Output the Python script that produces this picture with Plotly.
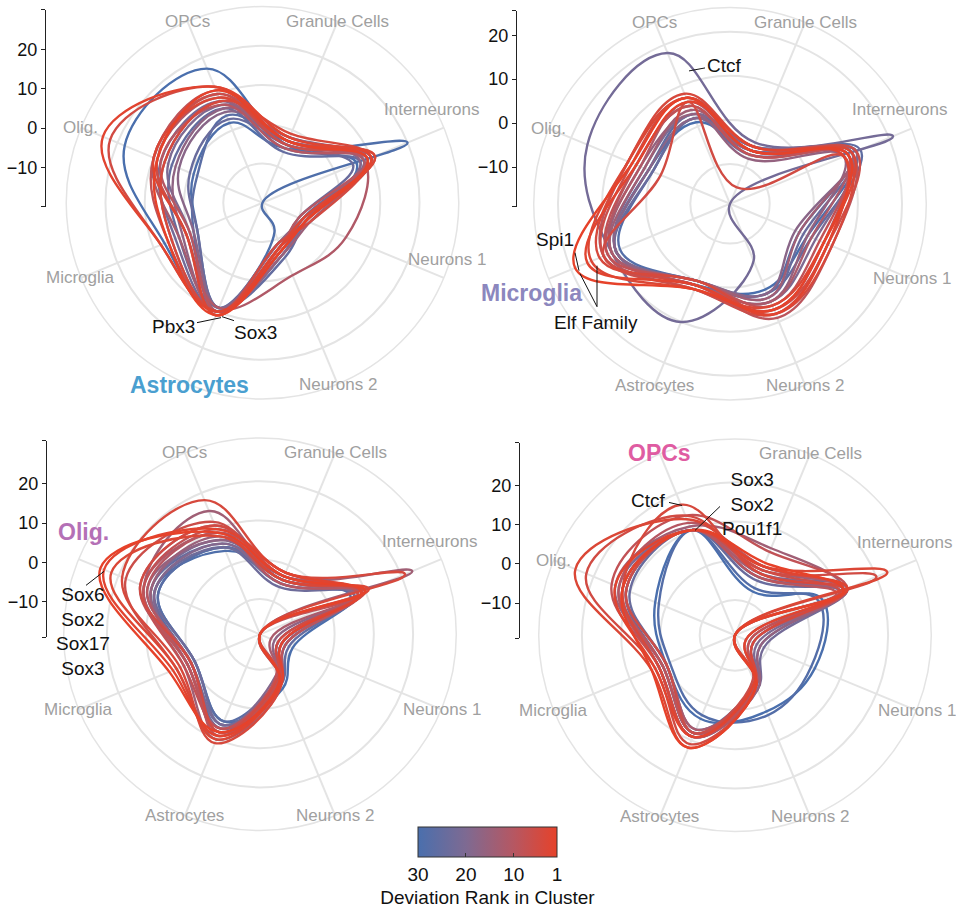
import math
import plotly.graph_objects as go
from plotly.colors import sample_colorscale

W, H = 956, 907
FONT = "Arial, Liberation Sans, sans-serif"

CATEGORIES = ["OPCs", "Granule Cells", "Interneurons", "Neurons 1",
              "Neurons 2", "Astrocytes", "Microglia", "Olig."]

# colour of a motif line by its deviation rank (30 = blue ... 1 = red)
RANK_COLORSCALE = [[0.0, "#4a6fad"], [0.345, "#7e6a92"],
                   [0.69, "#b65762"], [1.0, "#e6422a"]]
COLORBAR_TICKS = [30, 20, 10, 1]
SCALE_TICKS = [-10, 0, 10, 20]

# ---- Astrocytes cluster: deviation per cell type (order of CATEGORIES)
ASTRO_RANGE = [-20, 30]
ASTRO_RANKS = [30, 29, 27, 25, 24, 22, 20, 18, 17, 15, 13, 11, 10, 8, 6, 5, 4, 3, 2, 1]
ASTRO_VALUES = [
    [17, -4, 6, -7, -9, 10, 7, 18],
    [2, -5, 20, -20, -12, 9, -2, -1],
    [4, -3, 8, -9, -6, 9, -1, -2],
    [6, -6, 7, -8, -5, 9, 3, 5],
    [3, -4, 5, -10, -8, 9, -2, 0],
    [8, -5, 9, -9, -7, 10, 4, 8],
    [7, -3, 10, -8, -6, 10, 0, 6],
    [5, -2, 7, -9, -9, 9, -1, 3],
    [6, -2, 9, -9, -9, 10, 2, 4],
    [8, -4, 10, -7, -6, 10, 5, 7],
    [10, -3, 8, -8, -8, 10, 3, 10],
    [9, -4, 8, 3, 0, 9, 1, 9],
    [7, -5, 9, -10, -8, 10, 0, 8],
    [11, -2, 10, -8, -7, 10, 6, 10],
    [10, -4, 11, -9, -8, 11, 1, 9],
    [12, -3, 9, -7, -9, 10, 8, 22],
    [8, -1, 10, -8, -7, 10, 5, 7],
    [9, -3, 11, -9, -8, 11, 1, 10],
    [12, -2, 10, -8, -8, 10, 8, 24],
    [11, -3, 9, -8, -7, 11, 6, 9],
]

# ---- Microglia cluster
MICRO_RANGE = [-19, 25.5]
MICRO_RANKS = [30, 28, 26, 24, 22, 20, 18, 16, 14, 12, 11, 9, 8, 6, 5, 4, 3, 2, 1]
MICRO_VALUES = [
    [1, -6, 12, 0, 2, 1, 9, 1],
    [2, -5, 11, -2, 3, 0, 8, 0],
    [3, -6, 13, 1, 3, 1, 9, 1],
    [2, -7, 12, -1, 4, 0, 9, 0],
    [18, -4, 21, -19, -5, 10, 10, 16],
    [3, -5, 11, 2, 5, 1, 9, 2],
    [2, -6, 12, -3, 3, 0, 9, 1],
    [3, -8, 9, 0, 5, 1, 10, 3],
    [4, -6, 11, -2, 4, 0, 10, 2],
    [5, -7, 10, 1, 5, 1, 10, 4],
    [6, -6, 9, 4, 7, 2, 11, 3],
    [7, -5, 11, 6, 9, 1, 12, 6],
    [5, -7, 10, 3, 6, 0, 11, 4],
    [7, -6, 12, 5, 8, 2, 12, 5],
    [6, -15, 9, 5, 7, 1, 12, -2],
    [8, -5, 10, 6, 8, 0, 13, 6],
    [7, -6, 11, 4, 6, 2, 15, 6],
    [6, -5, 9, 5, 8, 1, 16, 4],
    [7, -6, 10, 4, 7, 2, 19, 5],
]

# ---- Oligodendrocyte cluster
OLIG_RANGE = [-19, 31]
OLIG_RANKS = [30, 29, 27, 25, 23, 21, 19, 17, 15, 14, 12, 10, 9, 8, 6, 5, 4, 3, 2, 1]
OLIG_VALUES = [
    [5, -4, 7, -10, -4, 5, -1, 9],
    [4, -3, 6, -12, -6, 6, 0, 10],
    [5, -5, 7, -13, -7, 5, -1, 9],
    [6, -4, 8, -11, -5, 7, 0, 11],
    [5, -6, 9, -14, -7, 6, -1, 10],
    [7, -4, 7, -12, -6, 6, 0, 11],
    [6, -5, 8, -13, -8, 7, 1, 10],
    [7, -3, 9, -15, -6, 8, 0, 12],
    [8, -4, 8, -14, -7, 7, 1, 11],
    [15, -3, 23, -19, -5, 10, 2, 13],
    [9, -2, 9, -16, -6, 8, 1, 13],
    [9, -5, 10, -19, -7, 9, 0, 12],
    [11, -3, 9, -12, -6, 8, 1, 14],
    [10, -2, 8, -19, -8, 7, 2, 13],
    [12, -4, 10, -13, -6, 9, 4, 18],
    [11, -3, 9, -14, -7, 8, 0, 14],
    [18, -2, 21, -19, -5, 11, 3, 19],
    [8, -4, 11, -19, -6, 10, 4, 22],
    [10, -2, 9, -13, -5, 9, 5, 24],
    [9, -3, 10, -19, -6, 8, 6, 25],
]

# ---- OPC cluster
OPCS_RANGE = [-19, 31]
OPCS_RANKS = [30, 28, 26, 24, 22, 20, 18, 16, 14, 12, 10, 9, 8, 6, 5, 4, 3, 2, 1]
OPCS_VALUES = [
    [10, -7, 5, 3, 2, 4, 0, 3],
    [10, -6, 4, 2, 3, 3, -1, 2],
    [10, -3, 11, -12, -5, 8, 1, 11],
    [10, -4, 10, -14, -6, 7, 0, 10],
    [10, -2, 12, -11, -4, 9, 2, 12],
    [10, 0, 11, -13, -5, 8, 1, 13],
    [10, -3, 10, -15, -6, 8, 0, 11],
    [10, -1, 12, -12, -4, 9, 2, 12],
    [11, 5, 11, -14, -5, 8, 1, 14],
    [10, -2, 10, -19, -6, 7, 0, 11],
    [12, 0, 11, -16, -5, 9, 2, 13],
    [10, -3, 9, -19, -6, 8, 1, 12],
    [14, 4, 12, -15, -5, 9, 2, 15],
    [10, -1, 10, -19, -7, 8, 0, 11],
    [14, -1, 20, -19, -5, 11, 3, 22],
    [17, -2, 11, -14, -6, 9, 2, 12],
    [13, 0, 23, -19, -5, 12, 4, 25],
    [10, 0, 12, -16, -6, 9, 3, 14],
    [10, 1, 11, -19, -5, 12, 4, 12],
]

# panel layout (pixels): polar centre, scale-bar x / top / bottom, title spot,
# and small nudges for ring labels that sit off the ring
PANELS = [
    dict(name="Astrocytes", ranks=ASTRO_RANKS, values=ASTRO_VALUES, rng=ASTRO_RANGE,
         cx=262.5, cy=203, bar=(46, 10, 207), color="#4a9fd0", title_xy=(189, 385),
         nudge={"Interneurons": (-13, -18), "Neurons 1": (3, -18)}),
    dict(name="Microglia", ranks=MICRO_RANKS, values=MICRO_VALUES, rng=MICRO_RANGE,
         cx=730, cy=204, bar=(517, 11, 207), color="#8c87be", title_xy=(531, 293),
         nudge={"Interneurons": (-12, -19)}),
    dict(name="Olig.", ranks=OLIG_RANKS, values=OLIG_VALUES, rng=OLIG_RANGE,
         cx=260, cy=635, bar=(47, 441, 638), color="#b470b6", title_xy=(83, 533),
         nudge={"Interneurons": (-12, -18)}),
    dict(name="OPCs", ranks=OPCS_RANKS, values=OPCS_VALUES, rng=OPCS_RANGE,
         cx=735, cy=636, bar=(520, 443, 639), color="#df5ca2", title_xy=(659, 453),
         nudge={"Interneurons": (-12, -18)}),
]
RADIUS = 196.5
GRID = "#e4e4e4"
ROTATION = 112.5


def px(x, y):
    return x / W, 1 - y / H


def rank_color(rank):
    return sample_colorscale(RANK_COLORSCALE, [(30 - rank) / 29])[0]


def text_ann(x, y, text, size, color, bold=False):
    fx, fy = px(x, y)
    return dict(x=fx, y=fy, xref="paper", yref="paper", xanchor="center",
                yanchor="middle", showarrow=False,
                text=f"<b>{text}</b>" if bold else text,
                font=dict(size=size, color=color, family=FONT))


fig = go.Figure()
layout = dict(
    width=W, height=H, margin=dict(l=0, r=0, t=0, b=0),
    paper_bgcolor="white", plot_bgcolor="rgba(0,0,0,0)",
    font=dict(family=FONT), showlegend=False,
)
annotations = []
shapes = []

for i, p in enumerate(PANELS, start=1):
    pid = "polar" if i == 1 else f"polar{i}"
    sfx = "" if i == 1 else str(i)

    # motif lines, blue (low rank) first so the top-ranked red ones sit on top
    for rank, vals in zip(p["ranks"], p["values"]):
        fig.add_trace(go.Scatterpolar(
            r=vals + [vals[0]], theta=CATEGORIES + [CATEGORIES[0]],
            mode="lines", line=dict(color=rank_color(rank), width=2.4,
                                    shape="spline", smoothing=1.15),
            subplot=pid, hoverinfo="skip", showlegend=False))

    x0, y0 = px(p["cx"] - RADIUS, p["cy"] + RADIUS)
    x1, y1 = px(p["cx"] + RADIUS, p["cy"] - RADIUS)
    layout[pid] = dict(
        domain=dict(x=[x0, x1], y=[y0, y1]), bgcolor="rgba(0,0,0,0)",
        angularaxis=dict(type="category", categoryorder="array", categoryarray=CATEGORIES,
                         rotation=ROTATION, direction="clockwise", showticklabels=False,
                         ticks="", showgrid=True, gridcolor=GRID, gridwidth=1.5,
                         showline=True, linecolor=GRID, linewidth=1.5),
        radialaxis=dict(range=p["rng"], tickmode="array", tickvals=SCALE_TICKS,
                        showticklabels=False, ticks="", showline=False,
                        showgrid=True, gridcolor=GRID, gridwidth=1.5),
    )

    # cell-type names on the outer ring; the cluster's own type becomes the title
    for k, cat in enumerate(CATEGORIES):
        if cat == p["name"]:
            continue
        ang = math.radians(ROTATION - 45 * k)
        dx, dy = p["nudge"].get(cat, (0, 0))
        lx = p["cx"] + RADIUS * math.cos(ang) + dx
        ly = p["cy"] - RADIUS * math.sin(ang) + dy
        annotations.append(text_ann(lx, ly, cat, 17, "#a0a0a0"))
    annotations.append(text_ann(*p["title_xy"], p["name"], 23, p["color"], bold=True))

    # radial scale bar beside each panel
    bx, btop, bbot = p["bar"]
    xa, ya = f"xaxis{sfx}", f"yaxis{sfx}"
    layout[xa] = dict(domain=[bx / W, (bx + 8) / W], range=[0, 1], visible=False,
                      anchor=f"y{sfx}", fixedrange=True)
    tv = [p["rng"][0]] + SCALE_TICKS + [p["rng"][1]]
    tt = [""] + [str(v).replace("-", "\u2212") for v in SCALE_TICKS] + [""]
    layout[ya] = dict(domain=[1 - bbot / H, 1 - btop / H], range=p["rng"],
                      anchor=f"x{sfx}", showline=True, linecolor="#222", linewidth=1.3,
                      ticks="outside", ticklen=4, tickwidth=1.3, tickcolor="#222",
                      tickmode="array", tickvals=tv, ticktext=tt,
                      tickfont=dict(size=18, color="#111", family=FONT),
                      showgrid=False, zeroline=False, fixedrange=True)
    fig.add_trace(go.Scatter(x=[None], y=[None], xaxis=f"x{sfx}", yaxis=f"y{sfx}",
                             mode="markers", hoverinfo="skip", showlegend=False))

# gene labels and their leader lines
GENE_LABELS = [
    ("Pbx3", (173, 327)), ("Sox3", (255, 333)),
    ("Ctcf", (724, 66)), ("Spi1", (555, 240)), ("Elf Family", (596, 323)),
    ("Sox6<br>Sox2<br>Sox17<br>Sox3", (83, 632)),
    ("Ctcf", (648, 501)), ("Sox3<br>Sox2<br>Pou1f1", (752, 505)),
]
LEADERS = [
    ((197, 323), (221, 318)), ((234, 321), (222, 317)),
    ((689, 71), (705, 68)), ((575, 253), (579, 271)),
    ((597, 307), (580, 274)), ((597, 307), (597, 266)),
    ((86, 586), (104, 572)),
    ((669, 503), (682, 506)), ((720, 507), (695, 531)),
]
for text, (gx, gy) in GENE_LABELS:
    annotations.append(text_ann(gx, gy, text, 19, "#111"))
for (xa0, ya0), (xa1, ya1) in LEADERS:
    sx0, sy0 = px(xa0, ya0)
    sx1, sy1 = px(xa1, ya1)
    shapes.append(dict(type="line", xref="paper", yref="paper", x0=sx0, y0=sy0,
                       x1=sx1, y1=sy1, line=dict(color="#111", width=1)))

# shared colour bar for the deviation rank
cb_x, cb_y = px((418 + 557) / 2, 827)
fig.add_trace(go.Scatter(
    x=[None, None], y=[None, None], mode="markers", hoverinfo="skip", showlegend=False,
    marker=dict(color=[-30, -1], cmin=-30, cmax=-1,
                colorscale=RANK_COLORSCALE, showscale=True,
                colorbar=dict(orientation="h", x=cb_x, xanchor="center", y=cb_y,
                              yanchor="top", len=139 / W, lenmode="fraction",
                              thickness=30, thicknessmode="pixels",
                              outlinewidth=1, outlinecolor="#333",
                              tickmode="array", tickvals=[-t for t in COLORBAR_TICKS],
                              ticktext=[str(t) for t in COLORBAR_TICKS],
                              ticks="inside", ticklen=4, tickcolor="#333",
                              tickfont=dict(size=19, color="#111", family=FONT),
                              title=dict(text="Deviation Rank in Cluster", side="bottom",
                                         font=dict(size=19, color="#111", family=FONT)),
                              xpad=0, ypad=0))))

layout["annotations"] = annotations
layout["shapes"] = shapes
fig.update_layout(**layout)
fig.write_html("out.html")
